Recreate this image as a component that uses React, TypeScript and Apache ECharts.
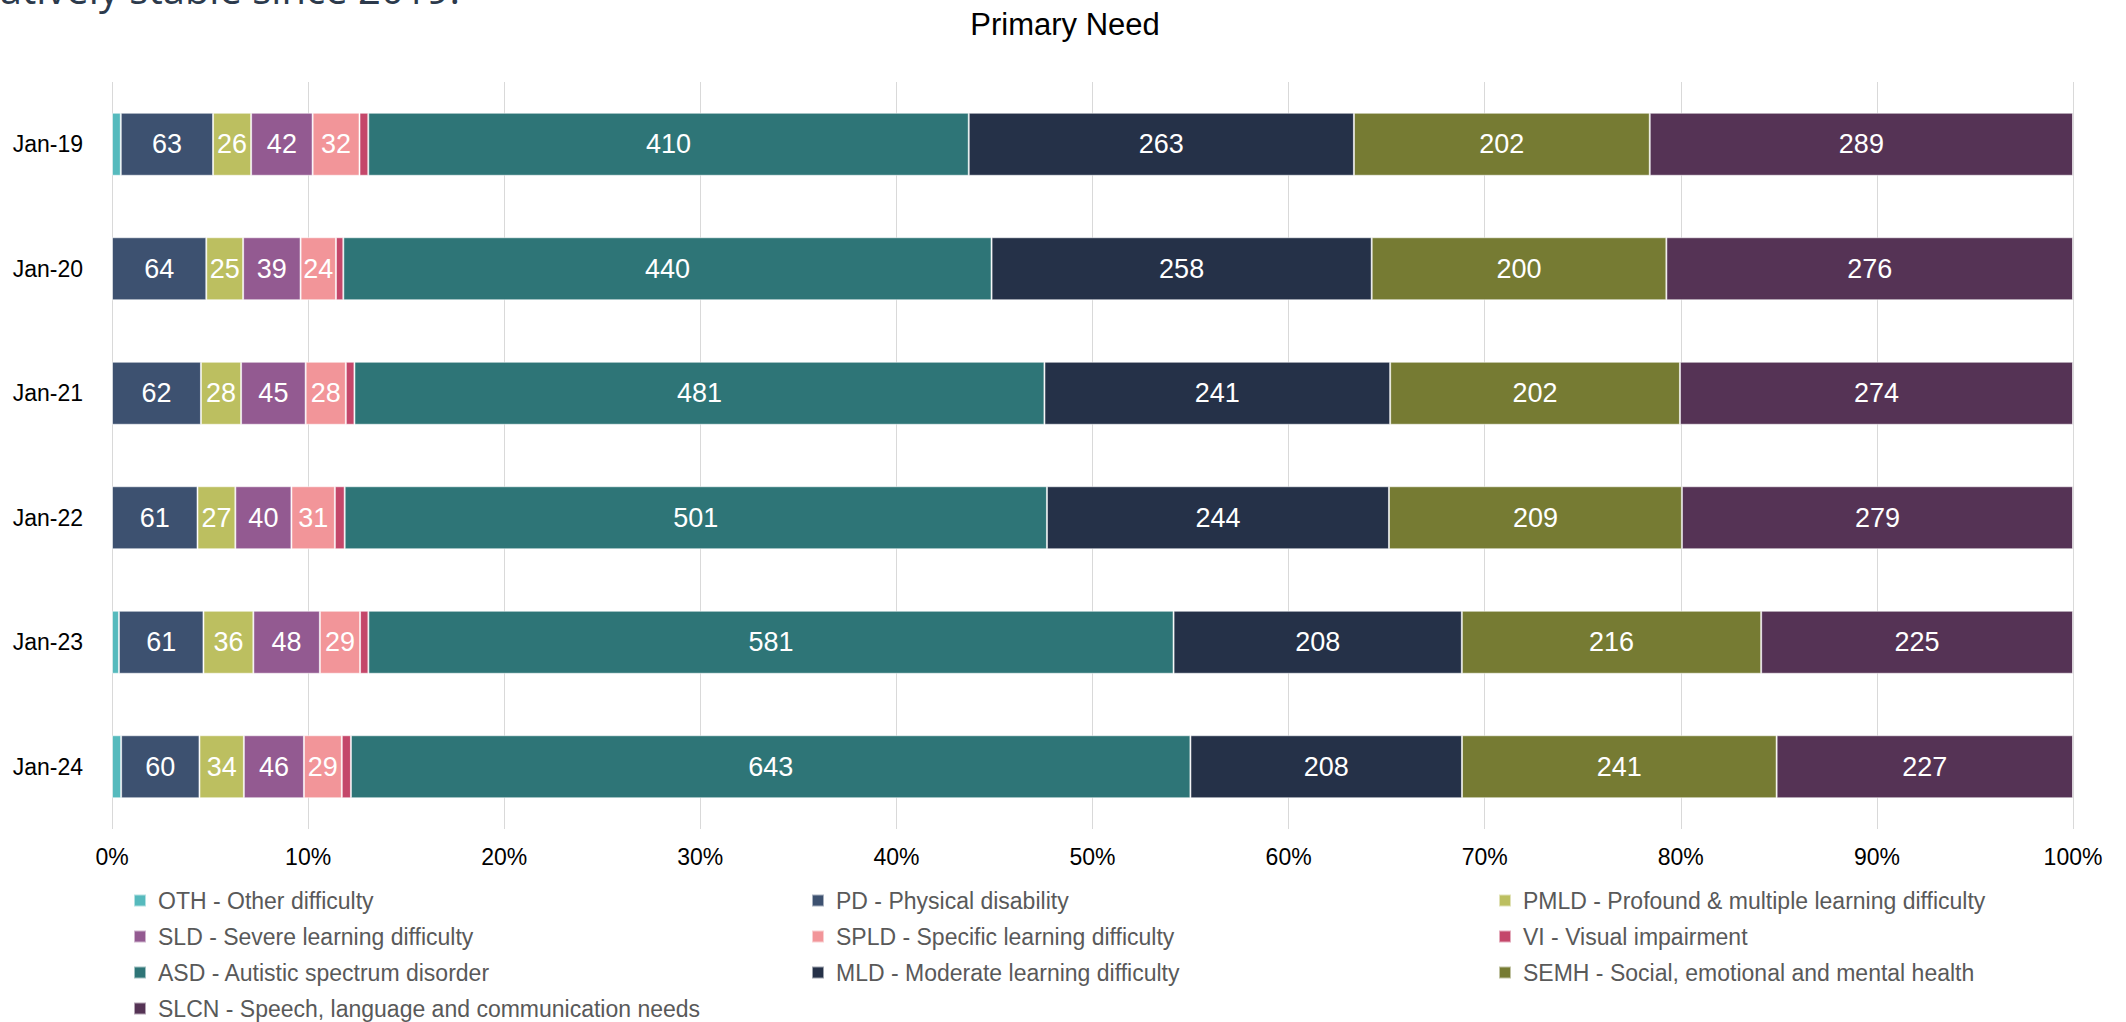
import React, { useEffect, useRef } from "react";
import * as echarts from "echarts";

const categories = ["Jan-19", "Jan-20", "Jan-21", "Jan-22", "Jan-23", "Jan-24"];

const seriesNames = [
  "OTH - Other difficulty",
  "PD - Physical disability",
  "PMLD - Profound & multiple learning difficulty",
  "SLD - Severe learning difficulty",
  "SPLD - Specific learning difficulty",
  "VI - Visual impairment",
  "ASD - Autistic spectrum disorder",
  "MLD - Moderate learning difficulty",
  "SEMH - Social, emotional and mental health",
  "SLCN - Speech, language and communication needs",
];

const OTH = [6, 0, 0, 0, 5, 7];
const PD = [63, 64, 62, 61, 61, 60];
const PMLD = [26, 25, 28, 27, 36, 34];
const SLD = [42, 39, 45, 40, 48, 46];
const SPLD = [32, 24, 28, 31, 29, 29];
const VI = [6, 5, 6, 7, 6, 7];
const ASD = [410, 440, 481, 501, 581, 643];
const MLD = [263, 258, 241, 244, 208, 208];
const SEMH = [202, 200, 202, 209, 216, 241];
const SLCN = [289, 276, 274, 279, 225, 227];

const seriesValues = [OTH, PD, PMLD, SLD, SPLD, VI, ASD, MLD, SEMH, SLCN];
const showLabel = [false, true, true, true, true, false, true, true, true, true];

const colors = [
  "#56babd",
  "#3d5170",
  "#bcbf60",
  "#935a91",
  "#f29599",
  "#c4476a",
  "#2e7577",
  "#253148",
  "#767b33",
  "#553355",
];

const xTicks = [0, 10, 20, 30, 40, 50, 60, 70, 80, 90, 100];

const legendCols = [
  [0, 3, 6, 9],
  [1, 4, 7],
  [2, 5, 8],
];

export default function App() {
  const ref = useRef<HTMLDivElement>(null);

  useEffect(() => {
    if (!ref.current) return;
    const chart = echarts.init(ref.current, null, { renderer: "svg" });
    const font = "'Liberation Sans', Arial, sans-serif";
    const totals = categories.map((_, i) =>
      seriesValues.reduce((s, arr) => s + arr[i], 0)
    );

    const series = seriesNames.map((name, si) => ({
      name,
      type: "bar",
      stack: "total",
      barWidth: 63,
      data: seriesValues[si].map((v, i) => (v / totals[i]) * 100),
      itemStyle: {
        color: colors[si],
        borderColor: "rgba(255,255,255,0.55)",
        borderWidth: 1,
      },
      label: {
        show: showLabel[si],
        position: "inside",
        color: "#ffffff",
        fontSize: 27,
        fontFamily: font,
        formatter: (p: any) => String(seriesValues[si][p.dataIndex]),
      },
      emphasis: { disabled: true },
    }));

    const legendLefts = [133, 811, 1498];
    const legends = legendCols.map((col, ci) => ({
      orient: "vertical",
      left: legendLefts[ci],
      top: 889,
      height: 400,
      padding: 0,
      itemWidth: 12,
      itemHeight: 12,
      itemGap: 13,
      icon: "rect",
      data: col.map((i) => seriesNames[i]),
      selectedMode: false,
      textStyle: {
        color: "#595959",
        fontSize: 23,
        lineHeight: 22,
        fontFamily: font,
        padding: [0, 0, 0, 7],
      },
    }));

    chart.setOption({
      animation: false,
      color: colors,
      title: {
        text: "Primary Need",
        left: 1060,
        textAlign: "center",
        top: 4,
        textStyle: {
          color: "#000000",
          fontSize: 31,
          fontWeight: "normal",
          fontFamily: font,
        },
      },
      graphic: [
        {
          type: "text",
          x: 460,
          y: 8,
          style: {
            text: "relatively stable since 2019.",
            fill: "#2c3a4c",
            fontSize: 40,
            fontFamily: "'Open Sans', 'Liberation Sans', sans-serif",
            textAlign: "right",
            textVerticalAlign: "bottom",
          },
        },
      ],
      legend: legends,
      grid: {
        left: 112,
        right: 53,
        top: 82,
        bottom: 1022 - 829,
        containLabel: false,
      },
      xAxis: {
        type: "value",
        min: 0,
        max: 100,
        interval: 10,
        axisLine: { show: false },
        axisTick: { show: false },
        splitLine: { show: true, lineStyle: { color: "#d9d9d9", width: 1 } },
        axisLabel: {
          color: "#000000",
          fontSize: 23,
          fontFamily: font,
          margin: 16,
          formatter: (v: number) => (xTicks.includes(v) ? `${v}%` : ""),
        },
      },
      yAxis: {
        type: "category",
        data: categories,
        inverse: true,
        axisLine: { show: false },
        axisTick: { show: false },
        splitLine: { show: false },
        axisLabel: {
          color: "#000000",
          fontSize: 23,
          fontFamily: font,
          margin: 29,
        },
      },
      series,
    });

    return () => chart.dispose();
  }, []);

  return (
    <div
      ref={ref}
      style={{ width: 2126, height: 1022, position: "absolute", left: 0, top: 0 }}
    />
  );
}
